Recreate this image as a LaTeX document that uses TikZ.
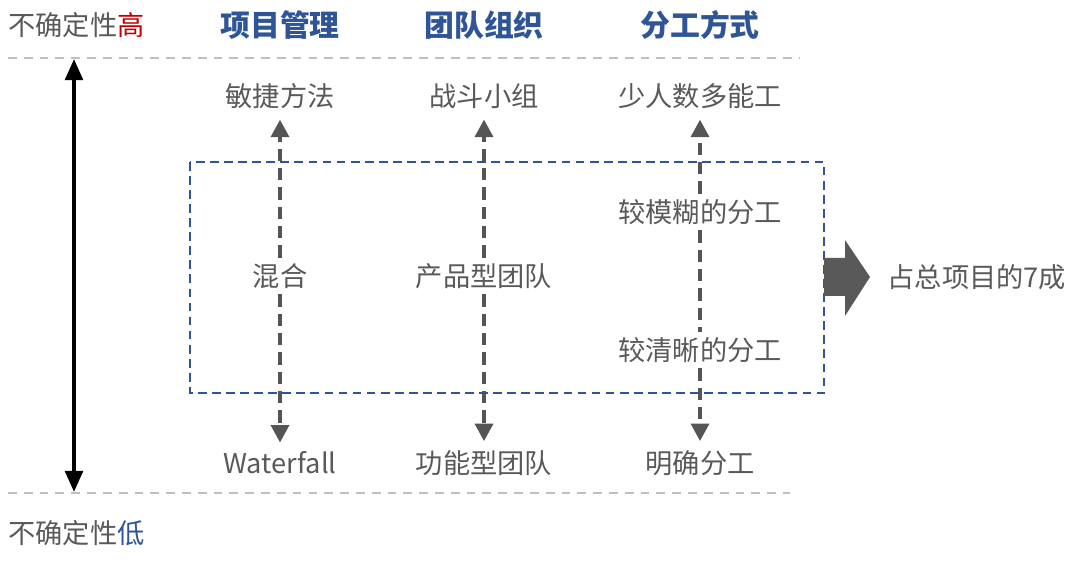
\documentclass[tikz,border=0pt]{standalone}
\usepackage{fontspec}
\setmainfont{Noto Sans CJK SC}
\usetikzlibrary{arrows.meta}
\definecolor{txtgray}{HTML}{595959}
\definecolor{hdrblue}{HTML}{2F5597}
\definecolor{hired}{HTML}{C00000}
\definecolor{arrgray}{HTML}{555555}
\definecolor{rulegray}{HTML}{BFBFBF}

\begin{document}
\begin{tikzpicture}[x=0.2mm, y=-0.2mm, >=Stealth,
    label/.style={text=txtgray, font=\fontsize{15.5}{18}\selectfont, inner sep=3pt},
    header/.style={text=hdrblue, font=\fontsize{17}{20}\selectfont\bfseries},
    rule/.style={rulegray, line width=0.8pt, dash pattern=on 5pt off 4pt},
    dasharrow/.style={arrgray, line width=2.8pt, dash pattern=on 7pt off 4pt,
        -{Triangle[length=10pt, width=10pt]}},
    dashline/.style={arrgray, line width=2.8pt, dash pattern=on 7pt off 4pt},
    boxline/.style={hdrblue, line width=1.3pt, dash pattern=on 5pt off 3pt}]
    \useasboundingbox (0,0) rectangle (1080,570);

    % 左侧：不确定性的高低
    \node[label, anchor=west, inner sep=0pt] (hi) at (8,25) {不确定性\textcolor{hired}{高}};
    \node[label, anchor=west, inner sep=0pt] (lo) at (8,533) {不确定性\textcolor{hdrblue}{低}};
    \draw[rule] (8,58) -- (800,58);
    \draw[rule] (8,493) -- (790,493);
    \coordinate (up) at (74,59);
    \coordinate (down) at (74,492);
    \draw[{Triangle[length=12pt, width=10pt]}-{Triangle[length=12pt, width=10pt]}, line width=2.2pt] (up) -- (down);

    % 三列标题
    \node[header] (hdrA) at (280,25) {项目管理};
    \node[header] (hdrB) at (484,25) {团队组织};
    \node[header] (hdrC) at (700,25) {分工方式};

    % 上端
    \node[label] (topA) at (280,96) {敏捷方法};
    \node[label] (topB) at (484,96) {战斗小组};
    \node[label] (topC) at (700,96) {少人数多能工};

    % 中间
    \node[label] (midA) at (280,276) {混合};
    \node[label] (midB) at (484,276) {产品型团队};
    \node[label] (midC1) at (700,212) {较模糊的分工};
    \node[label] (midC2) at (700,350) {较清晰的分工};

    % 下端
    \node[label] (botA) at (280,463) {Waterfall};
    \node[label] (botB) at (484,463) {功能型团队};
    \node[label] (botC) at (700,463) {明确分工};

    % 虚线箭头
    \draw[dasharrow, shorten >=3pt] (midA.north) -- (topA.south);
    \draw[dasharrow, shorten >=2pt] (midA.south) -- (botA.north);
    \draw[dasharrow, shorten >=3pt] (midB.north) -- (topB.south);
    \draw[dasharrow, shorten >=2pt] (midB.south) -- (botB.north);
    \draw[dasharrow, shorten >=3pt] (midC1.north) -- (topC.south);
    \draw[dashline] (midC1.south) -- (midC2.north);
    \draw[dasharrow, shorten >=2pt] (midC2.south) -- (botC.north);

    % 蓝色虚线框
    \draw[boxline] (190,162) rectangle (824,393);

    % 右侧粗箭头
    \fill[txtgray] (824,258) -- (845,258) -- (845,240) -- (870,277)
        -- (845,316) -- (845,296) -- (824,296) -- cycle;
    \node[label, anchor=west] (share) at (882,277) {占总项目的7成};
\end{tikzpicture}
\end{document}
